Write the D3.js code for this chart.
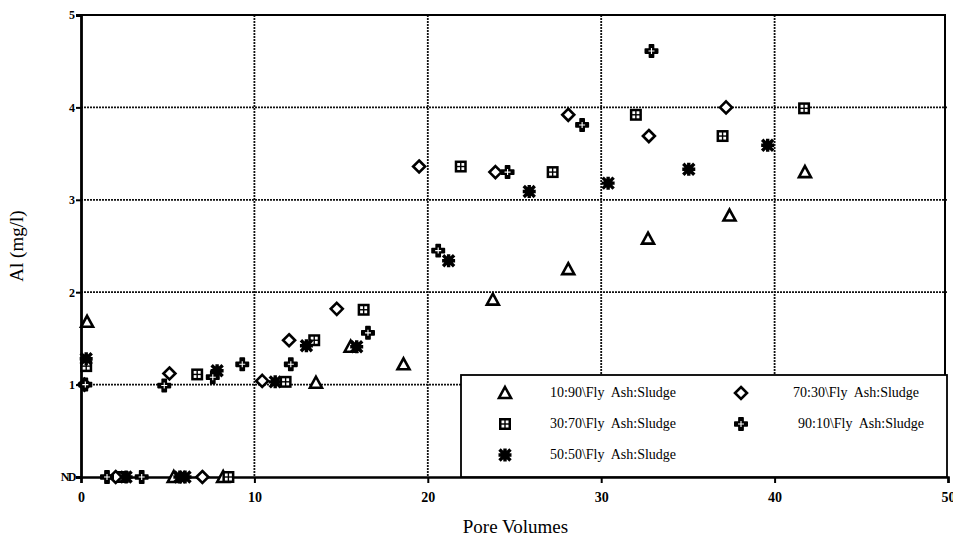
<!DOCTYPE html>
<html><head><meta charset="utf-8">
<script src="https://cdn.jsdelivr.net/npm/d3@7"></script>
<style>
html,body{margin:0;padding:0;background:#fff;}
svg{display:block;font-family:"Liberation Serif","Times New Roman",serif;}
</style></head>
<body><svg id="c" width="953" height="541"></svg>
<script>
// ---- data (x = pore volumes, y = Al mg/l; 0 = ND) ----
const seriesNames = ["10:90\\Fly  Ash:Sludge","30:70\\Fly  Ash:Sludge","50:50\\Fly  Ash:Sludge","70:30\\Fly  Ash:Sludge","90:10\\Fly  Ash:Sludge"];
const s1090x = [0.35, 5.35, 8.2, 13.55, 15.55, 18.6, 23.75, 28.1, 32.7, 37.4, 41.75];
const s1090y = [1.68, 0, 0, 1.02, 1.41, 1.22, 1.92, 2.25, 2.58, 2.83, 3.30];
const s3070x = [0.3, 2.4, 8.5, 6.7, 11.8, 13.45, 16.3, 21.9, 27.2, 32.0, 37.0, 41.7];
const s3070y = [1.20, 0, 0, 1.11, 1.03, 1.48, 1.81, 3.36, 3.30, 3.92, 3.69, 3.99];
const s5050x = [0.3, 2.6, 5.7, 6.0, 7.85, 11.2, 13.0, 15.9, 21.2, 25.85, 30.4, 35.05, 39.6];
const s5050y = [1.28, 0, 0, 0, 1.15, 1.03, 1.42, 1.41, 2.34, 3.09, 3.18, 3.33, 3.59];
const s7030x = [0.2, 2.0, 5.1, 7.0, 10.45, 12.0, 14.75, 19.5, 23.9, 28.1, 32.75, 37.2];
const s7030y = [1.0, 0, 1.12, 0, 1.04, 1.48, 1.82, 3.36, 3.30, 3.92, 3.69, 4.0];
const s9010x = [0.25, 1.5, 3.5, 4.8, 7.6, 9.3, 12.1, 16.55, 20.6, 24.6, 28.9, 32.9];
const s9010y = [1.0, 0, 0, 0.99, 1.08, 1.22, 1.22, 1.56, 2.45, 3.30, 3.81, 4.61];
const xTicks = [0, 10, 20, 30, 40, 50];
const yTicks = [0, 1, 2, 3, 4, 5];
const yTickLabels = ["ND", "1", "2", "3", "4", "5"];

const series = [
  {name: seriesNames[0], kind: "tri",  xs: s1090x, ys: s1090y},
  {name: seriesNames[1], kind: "sq",   xs: s3070x, ys: s3070y},
  {name: seriesNames[2], kind: "ast",  xs: s5050x, ys: s5050y},
  {name: seriesNames[3], kind: "dia",  xs: s7030x, ys: s7030y},
  {name: seriesNames[4], kind: "plus", xs: s9010x, ys: s9010y}
];

const svg = d3.select("#c");
const L = 81, R = 948, T = 15, B = 477;
const x = d3.scaleLinear().domain([0, 50]).range([L, R]);
const y = d3.scaleLinear().domain([0, 5]).range([B, T]);

// grid
const g = svg.append("g");
g.selectAll(".gx").data(xTicks.filter(d => d > 0 && d < 50)).enter().append("line")
  .attr("x1", d => x(d)).attr("x2", d => x(d)).attr("y1", T).attr("y2", B)
  .attr("stroke", "#111").attr("stroke-width", 1.8).attr("stroke-dasharray", "2,1");
g.selectAll(".gy").data(yTicks.filter(d => d > 0 && d < 5)).enter().append("line")
  .attr("x1", L).attr("x2", R).attr("y1", d => y(d)).attr("y2", d => y(d))
  .attr("stroke", "#111").attr("stroke-width", 1.8).attr("stroke-dasharray", "2,1");

// frame
svg.append("line").attr("x1", L).attr("x2", R-2).attr("y1", T).attr("y2", T).attr("stroke", "#000").attr("stroke-width", 2);
svg.append("line").attr("x1", R-3).attr("x2", R-3).attr("y1", T).attr("y2", B).attr("stroke", "#000").attr("stroke-width", 2);

// axes
const xAxis = d3.axisBottom(x).tickValues(xTicks).tickSize(6).tickFormat(d3.format("d"));
const gxA = svg.append("g").attr("transform", `translate(0,${B})`).call(xAxis);
gxA.attr("font-size", null).attr("font-family", null);
gxA.select(".domain").attr("stroke-width", 2.5);
gxA.selectAll(".tick line").attr("stroke-width", 2);
gxA.selectAll("text").style("font-size", "14px").style("font-weight", "700")
  .style("font-family", "'Liberation Serif',serif").attr("dy", "1.15em");

const yAxis = d3.axisLeft(y).tickValues(yTicks).tickSize(5).tickFormat((d, i) => yTickLabels[i]);
const gyA = svg.append("g").attr("transform", `translate(${L},0)`).call(yAxis);
gyA.attr("font-size", null).attr("font-family", null);
gyA.select(".domain").attr("stroke-width", 2.8);
gyA.selectAll(".tick line").attr("stroke-width", 2);
gyA.selectAll("text").style("font-size", "12px").style("font-weight", "700")
  .style("font-family", "'Liberation Serif',serif").attr("x", -6);
gyA.selectAll(".tick").filter(d => d === 0).select("text").style("letter-spacing", "-1.5px");

// axis titles
svg.append("text").attr("x", x(25)+1).attr("y", 533).attr("text-anchor", "middle")
  .style("font-size", "19px").text("Pore Volumes");
svg.append("text").attr("transform", `translate(23,${246}) rotate(-90)`).attr("text-anchor", "middle")
  .style("font-size", "19px").text("Al (mg/l)");

// markers
function drawMarker(sel, kind) {
  if (kind === "tri") {
    sel.append("path").attr("d", "M0,-6 L6,5 L-6,5 Z").attr("fill", "#fff")
      .attr("stroke", "#000").attr("stroke-width", 2.6).attr("stroke-linejoin", "miter");
  } else if (kind === "sq") {
    sel.append("rect").attr("x", -6).attr("y", -6).attr("width", 12).attr("height", 12).attr("fill", "#000");
    [[-3.5,-3.5],[0.7,-3.5],[-3.5,0.7],[0.7,0.7]].forEach(p =>
      sel.append("rect").attr("x", p[0]).attr("y", p[1]).attr("width", 2.8).attr("height", 2.8).attr("fill", "#fff"));
  } else if (kind === "ast") {
    sel.append("path").attr("d", "M-6.5,0 H6.5 M0,-6.5 V6.5 M-5.5,-5.5 L5.5,5.5 M-5.5,5.5 L5.5,-5.5")
      .attr("stroke", "#000").attr("stroke-width", 3.4).attr("stroke-linecap", "butt");
    sel.append("circle").attr("r", 4.6).attr("fill", "#000");
  } else if (kind === "dia") {
    sel.append("path").attr("d", "M0,-6 L6,0 L0,6 L-6,0 Z").attr("fill", "#fff")
      .attr("stroke", "#000").attr("stroke-width", 2.6);
  } else if (kind === "plus") {
    sel.append("path").attr("d", d3.symbol(d3.symbolCross, 85)()).attr("fill", "#000")
      .attr("stroke", "#000").attr("stroke-width", 1.6).attr("stroke-linejoin", "round");
    sel.append("path").attr("d", "M0,-3 V3 M-3,0 H3").attr("stroke", "#fff").attr("stroke-width", 1.1);
  }
}

series.forEach(s => {
  const pts = s.xs.map((v, i) => [v, s.ys[i]]);
  svg.append("g").selectAll("g").data(pts).enter().append("g")
    .attr("transform", d => `translate(${x(d[0])},${y(d[1])})`)
    .each(function() { drawMarker(d3.select(this), s.kind); });
});

// legend
const lg = svg.append("g");
lg.append("rect").attr("x", 461).attr("y", 375).attr("width", 486).attr("height", 102)
  .attr("fill", "#fff").attr("stroke", "#000").attr("stroke-width", 1.8);
const legendPos = [[505, 393], [505, 424], [505, 455], [741, 393], [741, 424]];
const legendTextX = [550, 550, 550, 793, 798];
series.forEach((s, i) => {
  const m = lg.append("g").attr("transform", `translate(${legendPos[i][0]},${legendPos[i][1]})`);
  drawMarker(m, s.kind);
  lg.append("text").attr("x", legendTextX[i]).attr("y", legendPos[i][1] + 4)
    .style("font-size", "14px").style("white-space", "pre").text(s.name);
});
</script></body></html>
